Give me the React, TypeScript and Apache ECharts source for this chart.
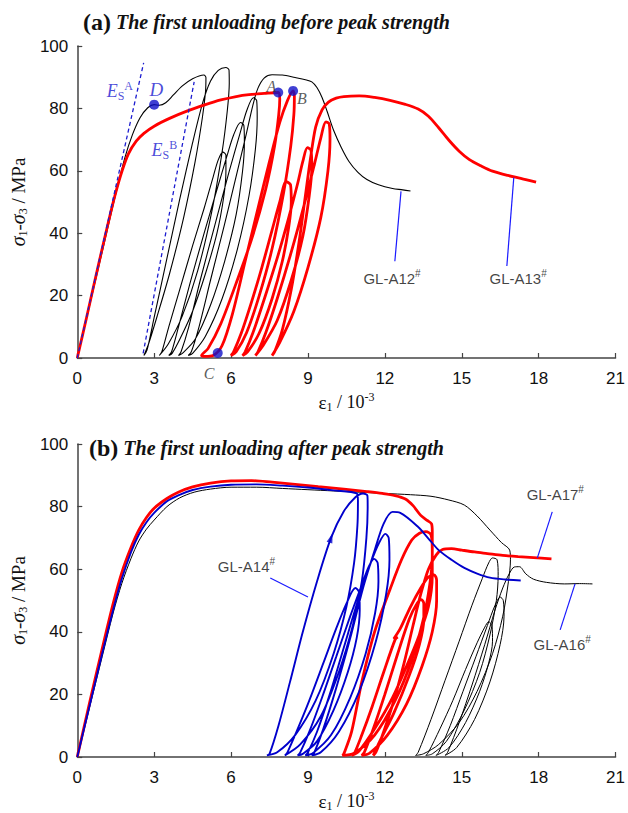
import React, { useEffect, useRef } from 'react';
import * as echarts from 'echarts';

// ---------- (a) GL-A12# (black) ----------
const a12: number[][] = [
  [0, 0], [0.5, 17.5], [1.0, 35], [1.5, 52.5], [1.85, 64], [2.15, 71.5], [2.45, 77], [2.75, 80.2], [3.0, 81.2], [3.2, 81], [3.45, 81.8], [3.75, 84.3], [4.1, 87.2], [4.5, 89.5], [4.94, 90.7],
  [5.02, 89.8], [5.0, 85], [4.88, 77], [4.6, 63], [4.15, 45], [3.6, 27], [3.12, 13.5], [2.78, 4.5], [2.6, 0.8],
  [2.72, 2.5], [3.0, 13], [3.5, 32], [4.0, 51], [4.5, 69], [4.9, 82], [5.2, 88.8], [5.5, 92.2], [5.8, 93.1], [5.92, 92.3],
  [5.93, 88], [5.85, 79], [5.65, 66], [5.25, 47], [4.7, 28], [4.1, 13.5], [3.55, 4.5], [3.2, 0.8],
  [3.3, 2], [3.57, 10], [4.0, 22], [4.5, 36], [4.95, 48], [5.3, 58], [5.5, 63.5], [5.68, 66], [5.8, 65],
  [5.8, 60], [5.72, 52], [5.45, 40], [5.0, 27], [4.5, 15], [4.0, 6], [3.7, 1.5], [3.57, 0.8],
  [3.68, 2], [3.95, 10], [4.4, 24], [4.95, 40], [5.45, 54], [5.85, 65], [6.1, 71.5], [6.37, 75.5], [6.5, 74.5],
  [6.52, 69], [6.45, 60], [6.2, 46], [5.75, 31], [5.2, 17], [4.6, 6], [4.1, 1.5], [3.95, 0.8],
  [4.05, 2], [4.35, 10], [4.8, 25], [5.35, 42], [5.9, 59], [6.35, 72], [6.62, 79.5], [6.87, 83.4], [7.0, 82.5],
  [7.02, 77], [6.95, 67], [6.7, 52], [6.25, 35], [5.65, 19], [5.0, 7], [4.5, 1.5], [4.33, 0.8],
  [4.45, 2], [4.75, 10], [5.2, 25], [5.75, 43], [6.25, 60], [6.6, 72], [6.85, 81], [7.05, 86.5], [7.3, 89.8], [7.6, 90.8], [8.0, 90.7], [8.5, 89.9], [8.9, 89.2], [9.15, 88.5], [9.35, 86.7], [9.55, 83.5], [9.75, 79], [10.0, 73], [10.3, 67.5], [10.6, 63], [10.95, 59.5], [11.3, 57.2], [11.75, 55.5], [12.3, 54.3], [12.7, 53.9], [13.0, 53.5],
];

// ---------- (a) GL-A13# (red) ----------
const a13: number[][] = [
  [0, 0], [0.35, 12.5], [0.7, 25.3], [1.0, 36], [1.3, 46.5], [1.5, 53], [1.75, 60], [2.0, 65.5], [2.3, 69.5], [2.6, 72], [3.0, 74.3], [3.6, 76.8], [4.3, 79.2], [5.0, 81.2], [5.6, 82.7], [6.2, 83.8], [6.7, 84.4], [7.3, 84.8], [7.84, 85.1],
  [7.9, 83], [7.86, 78], [7.7, 68], [7.35, 54], [6.8, 38], [6.2, 24], [5.6, 11], [5.1, 3], [4.85, 0.8],
  [5.0, 0.5], [5.3, 0.8], [5.65, 4], [6.05, 14], [6.55, 31], [7.05, 48], [7.5, 63], [7.9, 75.5], [8.2, 82.5], [8.42, 85.6],
  [8.47, 84], [8.45, 78], [8.33, 68], [8.05, 53], [7.6, 35], [7.1, 20], [6.6, 8], [6.2, 2], [6.0, 0.8],
  [6.1, 2], [6.4, 8], [6.8, 18], [7.2, 29], [7.6, 41], [7.9, 50], [8.15, 56.5], [8.32, 55.5],
  [8.35, 50], [8.25, 42], [8.0, 31], [7.6, 19], [7.1, 8], [6.65, 2], [6.45, 0.8],
  [6.55, 2], [6.85, 8], [7.3, 19], [7.8, 32], [8.25, 45], [8.6, 56], [8.8, 63], [8.98, 67.4], [9.12, 66.5],
  [9.15, 61], [9.05, 52], [8.8, 39], [8.35, 25], [7.8, 12], [7.25, 4], [6.95, 0.8],
  [7.05, 2], [7.35, 8], [7.8, 19], [8.35, 34], [8.85, 49], [9.25, 62], [9.5, 70.5], [9.7, 75.7], [9.83, 75],
  [9.86, 70], [9.78, 60], [9.5, 45], [9.0, 29], [8.45, 15], [7.9, 5], [7.6, 0.8],
  [7.7, 2], [8.0, 9], [8.35, 22], [8.65, 37], [8.9, 52], [9.1, 64], [9.3, 74], [9.55, 79.5], [9.8, 82], [10.1, 83.3], [10.4, 83.8], [11.0, 84], [11.6, 83.5], [12.2, 82.6], [12.8, 81.3], [13.3, 79.8], [13.7, 77.5], [14.1, 73.8], [14.5, 69.8], [14.9, 66.3], [15.3, 63.6], [15.75, 61.6], [16.2, 59.9], [16.8, 58.5], [17.3, 57.6], [17.9, 56.4],
];

const esA: number[][] = [[0, 0], [2.59, 94.6]];
const esB: number[][] = [[2.57, 1.5], [4.56, 88.5]];
const pointsA: number[][] = [[7.84, 85.1], [8.42, 85.6], [5.48, 1.6], [3.0, 81.2]];

// ---------- (b) GL-A16# (black) ----------
const a16: number[][] = [
  [0, 0], [0.5, 16.5], [0.97, 32], [1.4, 46], [1.74, 55.5], [2.1, 63.5], [2.4, 69], [2.7, 72.8], [3.0, 75.7], [3.5, 80], [4.0, 82.8], [4.56, 84.6], [5.2, 85.6], [6.0, 86.2], [7.0, 86.2], [8.0, 85.8], [9.0, 85.4], [10.0, 85.0], [11.0, 84.6], [12.0, 84.2], [13.0, 83.8], [13.8, 83.3], [14.5, 82.1], [15.1, 80.5], [15.6, 77], [16.1, 72.5], [16.55, 68.5], [16.87, 66.1],
  [16.9, 63], [16.82, 56], [16.6, 45], [16.2, 33], [15.6, 21], [14.9, 11], [14.1, 4], [13.5, 1], [13.2, 0.5],
  [13.3, 1.5], [13.8, 12], [14.35, 24.5], [14.9, 37], [15.4, 48.5], [15.8, 57], [16.05, 62], [16.2, 63.6], [16.38, 63],
  [16.42, 58], [16.35, 50], [16.1, 39], [15.7, 27], [15.1, 15], [14.4, 5], [13.85, 1], [13.6, 0.5],
  [13.7, 1.5], [14.15, 9], [14.65, 18], [15.15, 28], [15.6, 36.5], [15.9, 41.5], [16.05, 43.2], [16.18, 42],
  [16.2, 37], [16.05, 30], [15.7, 21], [15.15, 11], [14.5, 3], [14.0, 0.5],
  [14.1, 1.5], [14.55, 10], [15.05, 21], [15.55, 32], [16.0, 42], [16.3, 48.5], [16.5, 51.1], [16.62, 50],
  [16.65, 45], [16.5, 36], [16.1, 24], [15.5, 12], [14.8, 3], [14.35, 0.5],
  [14.45, 1.5], [14.9, 11], [15.4, 23], [15.9, 36], [16.3, 47], [16.6, 54], [16.85, 58.5], [17.05, 60.7], [17.25, 60.8], [17.5, 58.5], [17.8, 56.8], [18.3, 55.8], [19.0, 55.3], [19.6, 55.4], [20.1, 55.3],
];

// ---------- (b) GL-A17# (red) ----------
const a17: number[][] = [
  [0, 0], [0.5, 18], [0.97, 34.5], [1.4, 49], [1.74, 59], [2.1, 67], [2.4, 72.5], [2.7, 76.5], [3.0, 79.5], [3.5, 82.6], [3.94, 84.6], [4.5, 86.3], [5.2, 87.5], [6.0, 88.2], [6.8, 88.3], [7.6, 87.8], [8.4, 87.2], [9.4, 86.4], [10.4, 85.6], [11.3, 84.8], [11.9, 84.2], [12.4, 83.5], [12.8, 82.4], [13.1, 80.3], [13.4, 77.2], [13.65, 75.6], [13.82, 74.5],
  [13.85, 72], [13.85, 64], [13.75, 55], [13.5, 44], [13.05, 31], [12.4, 18], [11.6, 7], [10.8, 1.2], [10.35, 0.5],
  [10.4, 1], [10.7, 8], [11.1, 24], [11.6, 40], [12.2, 53.5], [12.65, 63], [13.05, 69.3], [13.35, 71.5], [13.6, 72], [13.8, 71],
  [13.85, 66], [13.85, 58], [13.7, 48], [13.3, 38], [12.9, 30], [12.3, 19], [11.6, 9], [11.0, 2], [10.7, 0.5],
  [10.8, 1], [11.1, 7], [11.5, 16], [11.95, 27], [12.4, 37.5], [12.5, 38.3], [12.35, 37.8], [12.6, 41], [13.0, 48], [13.4, 54], [13.7, 57.5], [13.92, 58.2], [14.02, 56.5],
  [14.02, 50], [13.85, 40], [13.45, 29], [12.85, 17], [12.1, 7], [11.4, 1.2], [11.1, 0.5],
  [11.2, 1.5], [11.55, 9], [12.0, 20], [12.5, 33], [12.95, 44], [13.25, 49], [13.42, 50.3], [13.52, 49],
  [13.52, 44], [13.35, 36], [12.95, 26], [12.35, 14], [11.8, 5], [11.55, 0.5],
  [11.65, 1.5], [11.95, 8], [12.35, 18], [12.75, 30], [13.1, 42], [13.4, 52], [13.7, 60], [14.0, 64.5], [14.25, 66.3], [14.6, 66.6], [15.0, 66.1], [15.5, 65.5], [16.0, 65], [16.6, 64.4], [17.2, 64], [17.8, 63.7], [18.5, 63.3],
];

// ---------- (b) GL-A14# (blue) ----------
const a14: number[][] = [
  [0, 0], [0.5, 17], [0.97, 33], [1.4, 47], [1.74, 57], [2.1, 65.5], [2.4, 71], [2.7, 75], [3.0, 78], [3.5, 81.7], [3.94, 83.6], [4.5, 85.3], [5.2, 86.4], [6.0, 87], [7.0, 87.1], [8.0, 86.7], [9.0, 86.1], [10.0, 85.2], [10.9, 84.2],
  [10.95, 82], [10.93, 74], [10.8, 62], [10.5, 48], [10.0, 33], [9.3, 18], [8.5, 7], [7.8, 1.5], [7.4, 0.5],
  [7.5, 1], [7.85, 10], [8.3, 24], [8.8, 40], [9.35, 56], [9.9, 70], [10.4, 78.5], [10.85, 83], [11.15, 84.2], [11.32, 83.5],
  [11.33, 80], [11.28, 70], [11.1, 56], [10.75, 42], [10.2, 27], [9.5, 13], [8.7, 4], [8.1, 0.5],
  [8.2, 1.5], [8.55, 8], [9.05, 18], [9.6, 30], [10.1, 41], [10.5, 49], [10.85, 54], [11.0, 52.5],
  [11.02, 47], [10.9, 38], [10.55, 27], [10.0, 15], [9.35, 5], [8.8, 1], [8.6, 0.5],
  [8.7, 1.5], [9.05, 8], [9.55, 19], [10.1, 32], [10.65, 45], [11.1, 55], [11.38, 61], [11.58, 63.3], [11.72, 62],
  [11.75, 56], [11.62, 46], [11.25, 33], [10.65, 19], [9.9, 7], [9.2, 1.3], [8.9, 0.5],
  [9.0, 1.5], [9.35, 8], [9.85, 20], [10.4, 35], [10.95, 50], [11.45, 62], [11.78, 68.5], [12.02, 71.3], [12.15, 70],
  [12.18, 63], [12.05, 52], [11.65, 37], [11.0, 21], [10.2, 8], [9.5, 1.5], [9.15, 0.5],
  [9.25, 1.5], [9.6, 9], [10.1, 22], [10.65, 38], [11.15, 54], [11.6, 66], [11.95, 74.5], [12.3, 78.3], [12.6, 78], [13.3, 73.5], [13.7, 69.8], [14.1, 66.1], [14.6, 63], [15.1, 60.4], [15.6, 58.6], [16.1, 57.3], [16.7, 56.7], [17.3, 56.4],
];
const arrowB: number[][] = [[9.9, 70]];

// ---------- annotations ----------
const leadersA: number[][][] = [
  [[12.63, 53.4], [12.39, 31.0]],
  [[17.03, 57.8], [16.76, 29.5]],
];
const leadersB: number[][][] = [
  [[7.53, 57.2], [9.0, 51.1]],
  [[18.53, 78.3], [17.95, 63.6]],
  [[19.42, 55.3], [18.84, 40.6]],
];
const labelsA = [
  { name: 'GL-A12', pos: [12.28, 25.6] },
  { name: 'GL-A13', pos: [17.2, 25.6] },
];
const labelsB = [
  { name: 'GL-A14', pos: [6.6, 61.0] },
  { name: 'GL-A17', pos: [18.65, 84.0] },
  { name: 'GL-A16', pos: [18.92, 36.1] },
];

const BLUE = '#1c1cd0';
const SERIF = 'Liberation Serif';
const SANS = 'Liberation Sans';

function lineSeries(data: number[][], color: string, width: number, gi: number, z = 2) {
  return {
    type: 'line', xAxisIndex: gi, yAxisIndex: gi, data, showSymbol: false, symbol: 'none',
    smooth: 0.3, lineStyle: { color, width }, z, silent: true,
  };
}

function axisPair(gi: number) {
  const x = {
    type: 'value', gridIndex: gi, min: 0, max: 21, interval: 3,
    axisLine: { show: true, onZero: false, lineStyle: { color: '#444', width: 1.5 } },
    axisTick: { show: true, inside: true, length: 5, lineStyle: { color: '#444', width: 1.2 } },
    axisLabel: { fontFamily: SANS, fontSize: 17, color: '#111', margin: 12 },
    splitLine: { show: false },
    name: '{e|ε}{s|1}{n| / 10}{p|-3}', nameLocation: 'middle', nameGap: 33,
    nameTextStyle: {
      rich: {
        e: { fontFamily: SERIF, fontSize: 19, color: '#111', lineHeight: 22 },
        s: { fontFamily: SERIF, fontSize: 12, color: '#111', lineHeight: 11, verticalAlign: 'bottom' },
        n: { fontFamily: SERIF, fontSize: 18, color: '#111', lineHeight: 22 },
        p: { fontFamily: SERIF, fontSize: 12, color: '#111', lineHeight: 11, verticalAlign: 'top' },
      },
    },
  };
  const y = {
    type: 'value', gridIndex: gi, min: 0, max: 100, interval: 20,
    axisLine: { show: true, onZero: false, lineStyle: { color: '#444', width: 1.5 } },
    axisTick: { show: true, inside: true, length: 5, lineStyle: { color: '#444', width: 1.2 } },
    axisLabel: { fontFamily: SANS, fontSize: 17, color: '#111', margin: 9 },
    splitLine: { show: false },
    name: '{g|σ}{s|1}{n|-}{g|σ}{s|3}{n| / MPa}', nameLocation: 'middle', nameGap: 43, nameRotate: 90,
    nameTextStyle: {
      rich: {
        g: { fontFamily: SERIF, fontSize: 20, fontStyle: 'italic', color: '#111', lineHeight: 22 },
        s: { fontFamily: SERIF, fontSize: 12, color: '#111', lineHeight: 11, verticalAlign: 'bottom' },
        n: { fontFamily: SERIF, fontSize: 19, color: '#111', lineHeight: 22 },
      },
    },
  };
  return { x, y };
}

const glRich = {
  t: { fontFamily: SANS, fontSize: 15, color: '#111', lineHeight: 20 },
  h: { fontFamily: SANS, fontSize: 10, color: '#111', lineHeight: 11, verticalAlign: 'top' },
};

function textScatter(items: { pos: number[]; text: string }[], gi: number, rich: any, clip = true) {
  return {
    type: 'scatter', xAxisIndex: gi, yAxisIndex: gi, symbolSize: 1, clip, silent: true, z: 10,
    itemStyle: { color: 'rgba(0,0,0,0)' },
    data: items.map((it) => ({
      value: it.pos,
      label: { show: true, position: 'inside', formatter: it.text, rich },
    })),
  };
}

const esRich = {
  e: { fontFamily: SERIF, fontSize: 18, fontStyle: 'italic', color: BLUE, lineHeight: 22 },
  s: { fontFamily: SERIF, fontSize: 12, color: BLUE, lineHeight: 11, verticalAlign: 'bottom' },
  p: { fontFamily: SERIF, fontSize: 12, color: BLUE, lineHeight: 11, verticalAlign: 'top' },
  d: { fontFamily: SERIF, fontSize: 19, fontStyle: 'italic', color: BLUE, lineHeight: 22 },
  g: { fontFamily: SERIF, fontSize: 16, fontStyle: 'italic', color: '#333', lineHeight: 20 },
};

function buildOption() {
  const ax0 = axisPair(0);
  const ax1 = axisPair(1);
  const titleRich = {
    a: { fontFamily: SERIF, fontWeight: 'bold', fontSize: 24, color: '#111' },
    b: { fontFamily: SERIF, fontWeight: 'bold', fontStyle: 'italic', fontSize: 20, color: '#111' },
  };
  const series: any[] = [
    lineSeries(a12, '#000', 1.1, 0, 2),
    lineSeries(a13, '#ff0000', 2.8, 0, 3),
    { type: 'line', xAxisIndex: 0, yAxisIndex: 0, data: esA, showSymbol: false, symbol: 'none', lineStyle: { color: BLUE, width: 1.3, type: [4, 3] }, z: 4 },
    { type: 'line', xAxisIndex: 0, yAxisIndex: 0, data: esB, showSymbol: false, symbol: 'none', lineStyle: { color: BLUE, width: 1.3, type: [4, 3] }, z: 4 },
    { type: 'scatter', xAxisIndex: 0, yAxisIndex: 0, data: pointsA, symbolSize: 10, itemStyle: { color: '#1010c8' }, z: 6 },
    ...leadersA.map((d) => ({ type: 'line', xAxisIndex: 0, yAxisIndex: 0, data: d, showSymbol: false, symbol: 'none', lineStyle: { color: '#1a1aff', width: 1.2 }, z: 5 })),
    textScatter(labelsA.map((l) => ({ pos: l.pos, text: `{t|${l.name}}{h|#}` })), 0, glRich),
    textScatter([
      { pos: [1.66, 85.6], text: '{e|E}{s|S}{p|A}' },
      { pos: [3.4, 66.8], text: '{e|E}{s|S}{p|B}' },
      { pos: [3.09, 86.2], text: '{d|D}' },
      { pos: [7.57, 87.0], text: '{g|A}' },
      { pos: [8.76, 83.2], text: '{g|B}' },
      { pos: [5.14, -5.1], text: '{g|C}' },
    ], 0, esRich, false),
    lineSeries(a16, '#000', 1.0, 1, 2),
    lineSeries(a17, '#ff0000', 2.8, 1, 3),
    lineSeries(a14, '#0000cc', 1.9, 1, 4),
    { type: 'scatter', xAxisIndex: 1, yAxisIndex: 1, data: arrowB, symbol: 'triangle', symbolSize: [6, 10], symbolRotate: -18, itemStyle: { color: '#0000cc' }, z: 6 },
    ...leadersB.map((d) => ({ type: 'line', xAxisIndex: 1, yAxisIndex: 1, data: d, showSymbol: false, symbol: 'none', lineStyle: { color: '#1a1aff', width: 1.2 }, z: 5 })),
    textScatter(labelsB.map((l) => ({ pos: l.pos, text: `{t|${l.name}}{h|#}` })), 1, glRich),
  ];
  return {
    animation: false,
    backgroundColor: '#fff',
    title: [
      { text: '{a|(a)} {b|The first unloading before peak strength}', left: 78, top: 5, textStyle: { rich: titleRich } },
      { text: '{a|(b)} {b|The first unloading after peak strength}', left: 84, top: 431, textStyle: { rich: titleRich } },
    ],
    grid: [
      { left: 75, top: 46, width: 544, height: 312 },
      { left: 75, top: 444, width: 544, height: 313 },
    ],
    xAxis: [ax0.x, ax1.x],
    yAxis: [ax0.y, ax1.y],
    series,
  };
}

export default function App() {
  const ref = useRef<HTMLDivElement>(null);
  useEffect(() => {
    document.body.style.margin = '0';
    const chart = echarts.init(ref.current!, null, { renderer: 'svg' });
    chart.setOption(buildOption() as any);
    return () => chart.dispose();
  }, []);
  return <div ref={ref} style={{ width: 628, height: 813 }} />;
}
